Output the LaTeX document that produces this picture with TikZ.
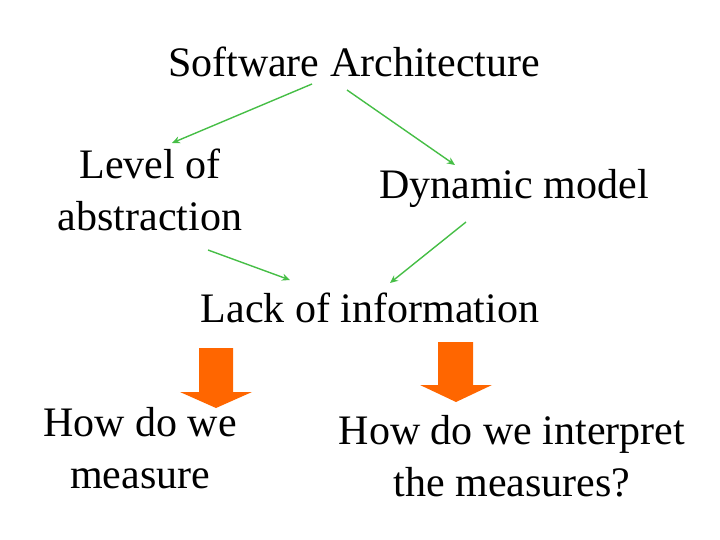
\documentclass[tikz,border=0pt]{standalone}
\usepackage{fontspec}
\usetikzlibrary{arrows.meta}
\setmainfont{Liberation Serif}
\definecolor{gr}{RGB}{70,190,70}
\definecolor{og}{RGB}{255,102,0}
\begin{document}
\begin{tikzpicture}[x=1pt,y=-1pt,
  txt/.style={font=\fontsize{42}{52}\selectfont,align=center,inner sep=0pt},
  conn/.style={draw=gr,line width=1.4pt,-{Stealth[length=8pt,width=7pt]}},
  blk/.style={fill=og,draw=none}]
\useasboundingbox (0,0) rectangle (720,540);
\node[txt] (sa) at (354,62) {Software Architecture};
\node[txt] (lev) at (150,190) {Level of\\abstraction};
\node[txt] (dyn) at (514,188) {Dynamic model};
\node[txt] (lack) at (370,308) {Lack of information};
\node[txt] (how1) at (140,448) {How do we\\measure};
\node[txt] (how2) at (512,456) {How do we interpret\\the measures?};
\coordinate (a1s) at (312,84); \coordinate (a1e) at (172,143);
\coordinate (a2s) at (347,90); \coordinate (a2e) at (455,165);
\coordinate (a3s) at (208,250); \coordinate (a3e) at (290,280);
\coordinate (a4s) at (466,222); \coordinate (a4e) at (390,283);
\draw[conn] (a1s) -- (a1e);
\draw[conn] (a2s) -- (a2e);
\draw[conn] (a3s) -- (a3e);
\draw[conn] (a4s) -- (a4e);
\fill[blk] (199,348) -- (233,348) -- (233,392) -- (252,392) -- (216,408) -- (180,392) -- (199,392) -- cycle;
\fill[blk] (438,342) -- (473,342) -- (473,385) -- (492,385) -- (456,402) -- (420,385) -- (438,385) -- cycle;
\end{tikzpicture}
\end{document}
